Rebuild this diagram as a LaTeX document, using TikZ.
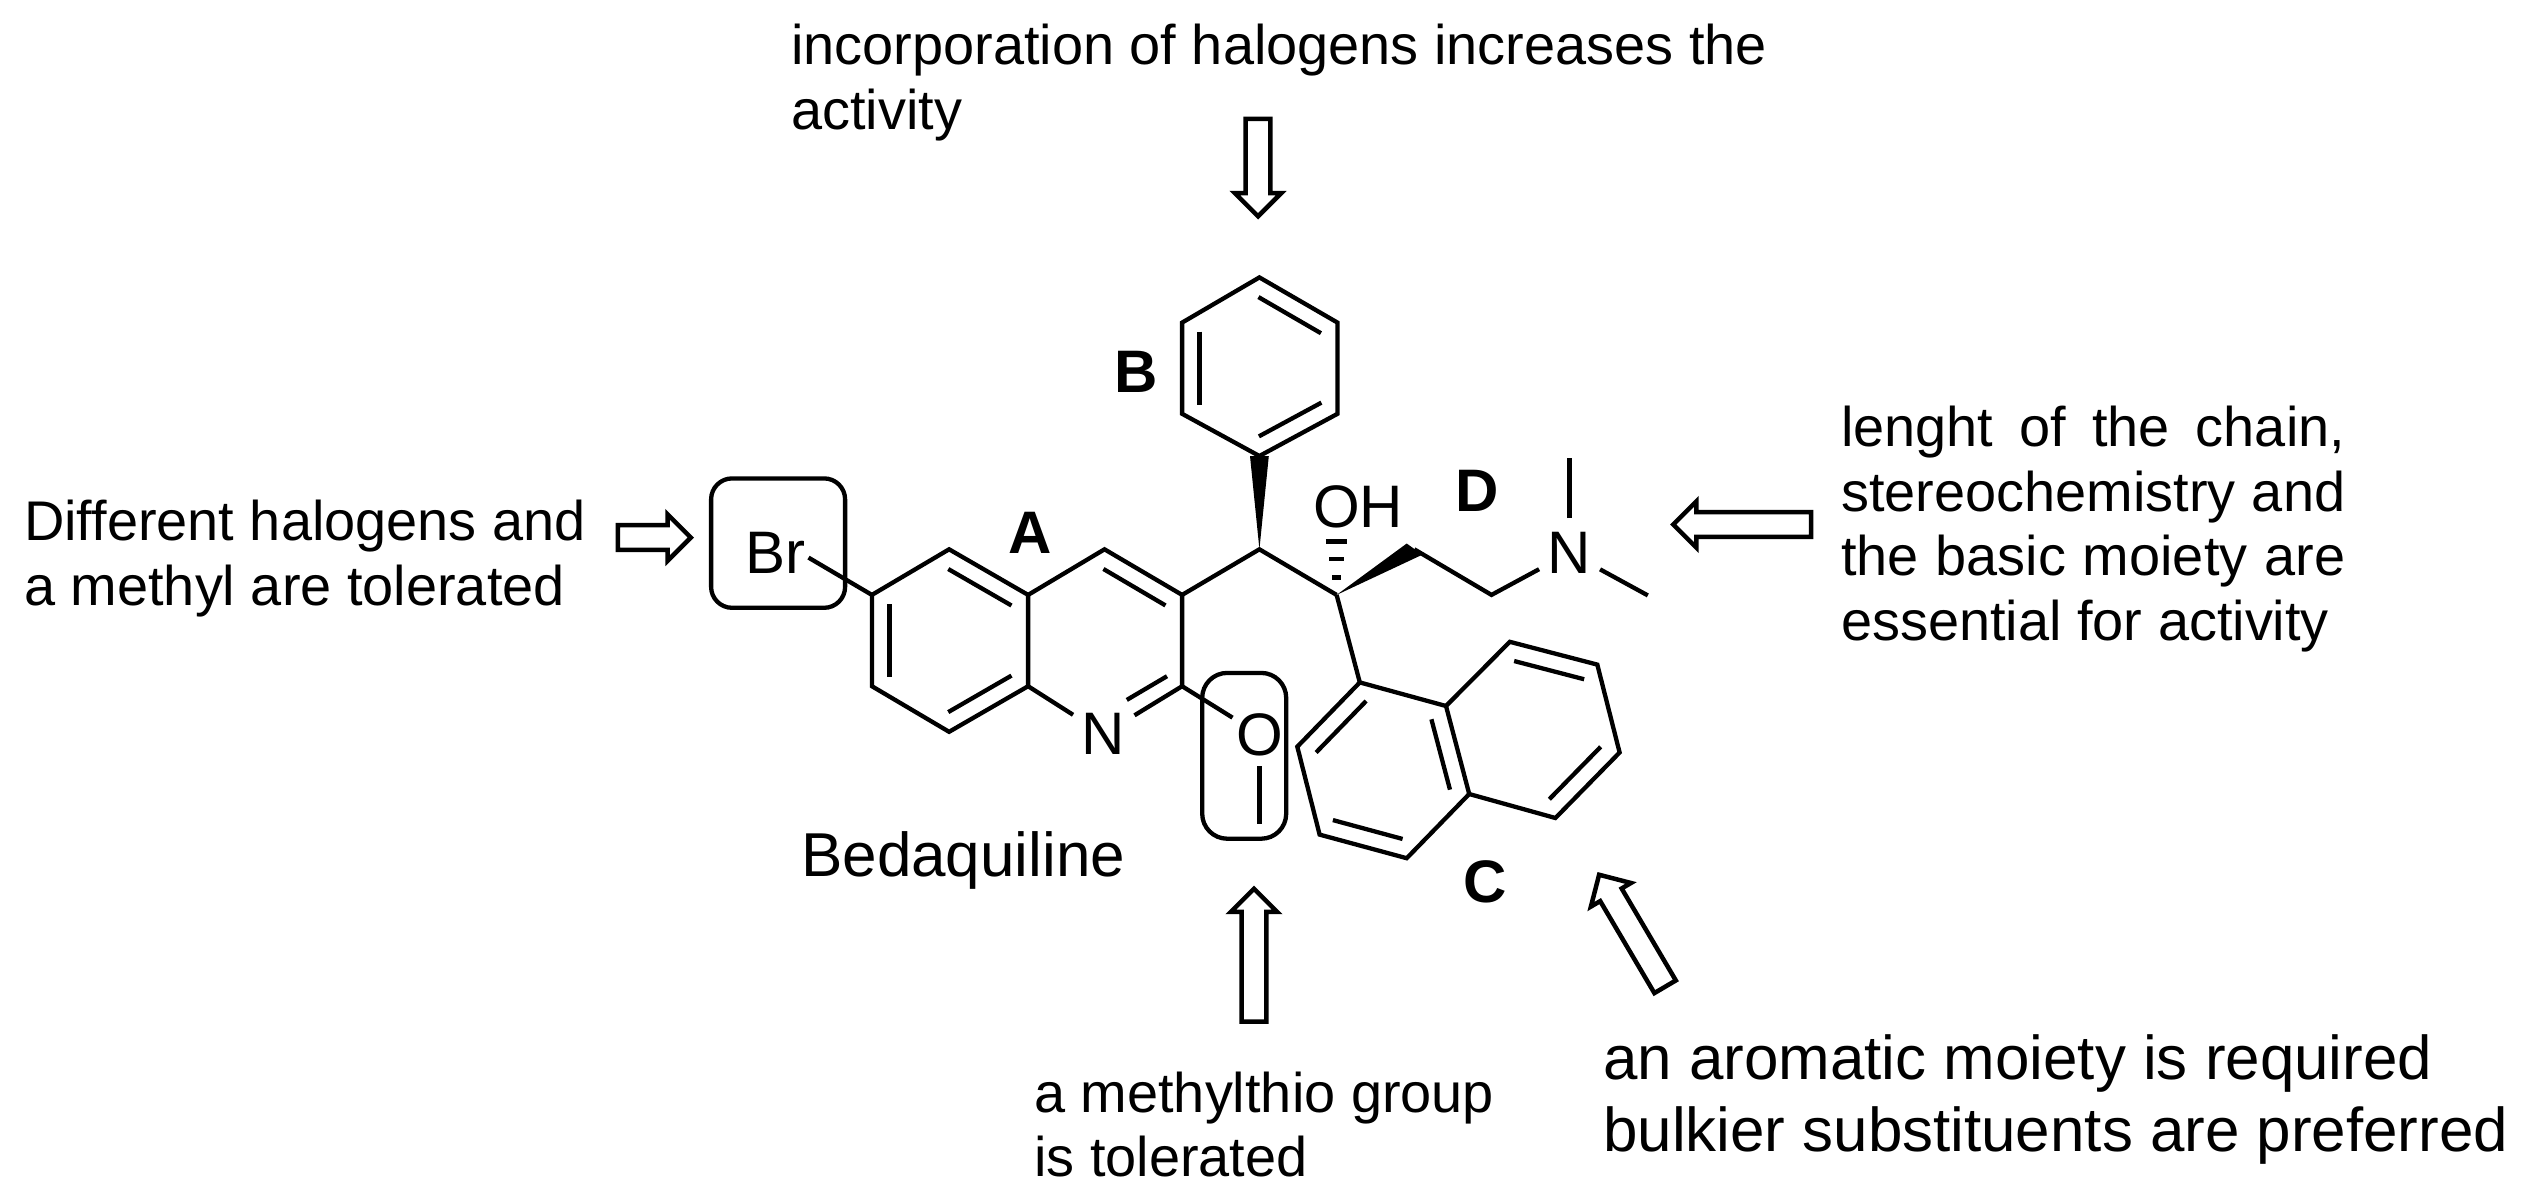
\documentclass[tikz,border=0pt]{standalone}
\usepackage{fontspec}
\setmainfont{Liberation Sans}
\usetikzlibrary{calc,shapes.arrows}
\tikzset{bond/.style={line width=4.3pt},
	atom/.style={circle,inner sep=0pt,font=\fontsize{60}{60}\selectfont},
	ringtag/.style={inner sep=0pt,font=\fontsize{60}{60}\selectfont\bfseries},
	notetext/.style={inner sep=0pt,align=left,anchor=base west,font=\fontsize{55.9}{64.4}\selectfont},
	groupbox/.style={draw,line width=4.3pt,inner sep=0pt},
	hollowarrow/.style={
		single arrow,
		draw,
		line width=4.5pt,
		inner sep=10.2pt,
		minimum width=42pt,
		single arrow head extend=10.8pt,
		single arrow tip angle=90,
		anchor=tip}
	}
\newcommand{\innerbond}[2]{\draw[bond] ($(#1)!.1!(#2)!17.5pt!90:(#2)$) -- ($(#2)!.1!(#1)!17.5pt!-90:(#1)$);}

\begin{document}
\begin{tikzpicture}[x=1pt,y=-1pt]
	\useasboundingbox (0,0) rectangle (2524,1195);
	\coordinate (qc5) at (949.1,549.3);
	\coordinate (qc6) at (871.9,594.9);
	\coordinate (qc7) at (871.9,686.2);
	\coordinate (qc8) at (949.1,731.8);
	\coordinate (qc8a) at (1028.1,686.2);
	\coordinate (qc4a) at (1028.1,594.9);
	\coordinate (qc4) at (1104.5,549.3);
	\coordinate (qc3) at (1182.1,594.9);
	\coordinate (qc2) at (1182.1,686.2);
	\coordinate (nin1) at (1167,676.2);
	\coordinate (nin2) at (1126.8,699.9);
	\coordinate (chb) at (1259.4,549.3);
	\coordinate (pha) at (1259.4,456);
	\coordinate (phb) at (1337.5,413.8);
	\coordinate (phc) at (1337.5,322.6);
	\coordinate (phd) at (1259.4,277.4);
	\coordinate (phe) at (1182.1,322.6);
	\coordinate (phf) at (1182.1,413.8);
	\coordinate (coh) at (1336.6,594.9);
	\coordinate (chain1) at (1414.3,549.3);
	\coordinate (chain2) at (1491.5,594.9);
	\coordinate (nc1) at (1359.8,682.4);
	\coordinate (nc2) at (1297.3,746.7);
	\coordinate (nc3) at (1319.6,834.6);
	\coordinate (nc4) at (1406.7,858.2);
	\coordinate (nc4a) at (1469.2,794);
	\coordinate (nc8a) at (1446,706);
	\coordinate (nc5) at (1555.4,818);
	\coordinate (nc6) at (1619.6,752.5);
	\coordinate (nc7) at (1597.3,664.6);
	\coordinate (nc8) at (1509.8,641.8);
	\coordinate (brend) at (808.5,557.6);
	\coordinate (ome) at (1259.4,824.2);
	\coordinate (me1) at (1569.6,458.1);
	\coordinate (me2) at (1647.8,595.4);

	\node[atom,minimum size=72pt] (nq) at (1103.6,734.2) {N};
	\node[atom,minimum size=63pt] (ox) at (1259.4,734.4) {O};
	\node[atom,minimum size=69pt] (namine) at (1569.6,552.7) {N};
	\node[inner sep=0pt,font=\fontsize{60}{60}\selectfont] (br) at (775,552.7) {Br};
	\node[inner sep=0pt,font=\fontsize{60}{60}\selectfont] (oh) at (1358,507) {OH};

	\draw[bond] (qc5) -- (qc6) -- (qc7) -- (qc8) -- (qc8a) -- (qc4a) -- cycle;
	\draw[bond] (qc4a) -- (qc4) -- (qc3) -- (qc2) -- (nq);
	\draw[bond] (qc8a) -- (nq);
	\draw[bond] (nin1) -- (nin2);
	\innerbond{qc4a}{qc5}
	\innerbond{qc6}{qc7}
	\innerbond{qc8}{qc8a}
	\innerbond{qc3}{qc4}
	\draw[bond] (qc6) -- (brend);
	\draw[bond] (qc2) -- (ox);
	\draw[bond] (ox) -- (ome);
	\draw[bond] (qc3) -- (chb) -- (coh);

	\draw[bond] (pha) -- (phb) -- (phc) -- (phd) -- (phe) -- (phf) -- cycle;
	\innerbond{pha}{phb}
	\innerbond{phc}{phd}
	\innerbond{phe}{phf}
	\fill (chb) -- ($(pha)+(-9.4,0)$) -- ($(pha)+(9.4,0)$) -- cycle;

	\fill (coh) -- ($(chain1)+(-7.6,-5.8)$) -- ($(chain1)+(8,5.4)$) -- cycle;
	\draw[bond] (chain1) -- (chain2) -- (namine);
	\draw[bond] (namine) -- (me1);
	\draw[bond] (namine) -- (me2);
	\draw[bond] ($(coh)+(-10.7,-53.4)$) -- ($(coh)+(10.7,-53.4)$);
	\draw[bond] ($(coh)+(-7.6,-35.6)$) -- ($(coh)+(7.6,-35.6)$);
	\draw[bond] ($(coh)+(-4.5,-17.4)$) -- ($(coh)+(4.5,-17.4)$);

	\draw[bond] (coh) -- (nc1);
	\draw[bond] (nc1) -- (nc2) -- (nc3) -- (nc4) -- (nc4a) -- (nc8a) -- cycle;
	\draw[bond] (nc8a) -- (nc8) -- (nc7) -- (nc6) -- (nc5) -- (nc4a);
	\innerbond{nc1}{nc2}
	\innerbond{nc3}{nc4}
	\innerbond{nc4a}{nc8a}
	\innerbond{nc5}{nc6}
	\innerbond{nc7}{nc8}

	\node[groupbox,rounded corners=21pt,minimum width=134pt,minimum height=129.4pt] (brbox) at (778.1,543.1) {};
	\node[groupbox,rounded corners=25pt,minimum width=84pt,minimum height=165.8pt] (obox) at (1244.2,755.8) {};

	\node[ringtag] (taga) at (1029.9,532.8) {A};
	\node[ringtag] (tagb) at (1136.6,372.3) {B};
	\node[ringtag] (tagc) at (1485.3,882) {C};
	\node[ringtag] (tagd) at (1476.8,490.5) {D};

	\node[hollowarrow,minimum height=97.5pt,rotate=-90] (arrowb) at (1258,219.5) {};
	\node[hollowarrow,minimum height=73pt] (arrowbr) at (694,537.5) {};
	\node[hollowarrow,minimum height=138pt,rotate=180] (arrowd) at (1670,524.5) {};
	\node[hollowarrow,minimum height=133pt,rotate=90] (arrowo) at (1254,885.5) {};
	\node[hollowarrow,minimum height=130pt,rotate=120.5] (arrowc) at (1597.5,872) {};

	\node[notetext] (noteb) at (791,129.3) {incorporation of halogens increases the\\activity};
	\node[notetext] (notebr) at (24,605) {Different halogens and\\a methyl are tolerated};
	\node[notetext] (noted) at (1841,640) {\makebox[504pt][s]{lenght of the chain,}\\\makebox[504pt][s]{stereochemistry and}\\\makebox[504pt][s]{the basic moiety are}\\essential for activity};
	\node[notetext] (noteo) at (1034,1176.7) {a methylthio group\\is tolerated};
	\node[notetext,font=\fontsize{61.9}{72.4}\selectfont] (notec) at (1603,1151.7) {an aromatic moiety is required\\bulkier substituents are preferred};
	\node[notetext,font=\fontsize{62}{62}\selectfont] (name) at (801,876) {Bedaquiline};
\end{tikzpicture}
\end{document}
